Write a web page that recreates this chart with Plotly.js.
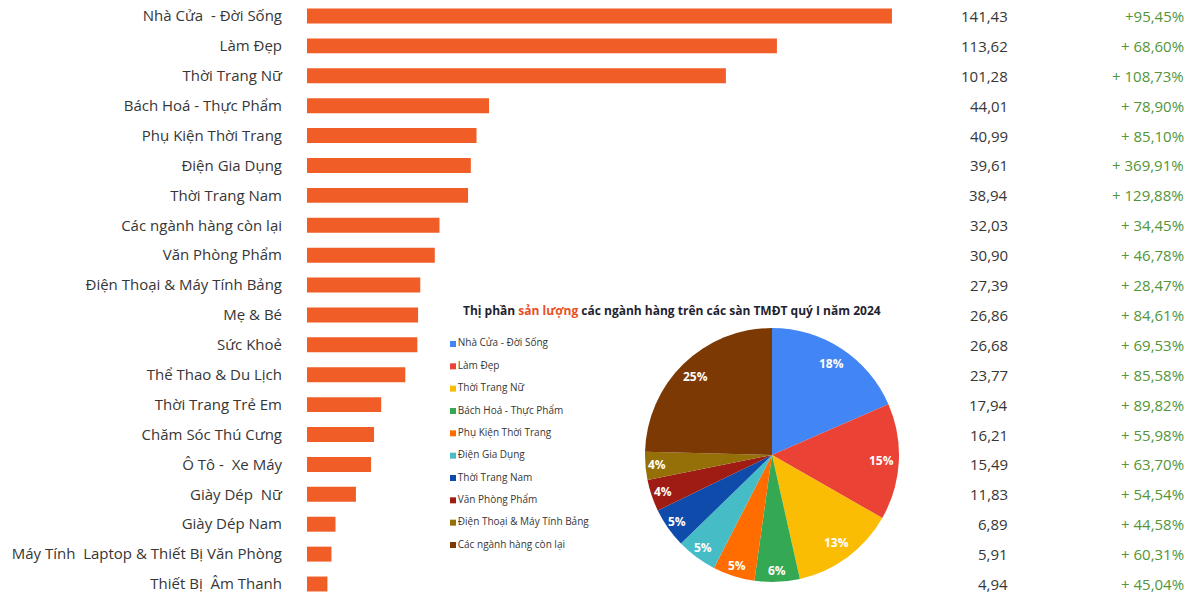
<!DOCTYPE html>
<html>
<head>
<meta charset="utf-8">
<script src="https://cdn.plot.ly/plotly-3.0.1.min.js"></script>
<style>html,body{margin:0;padding:0;background:#fff;}#chart{width:1188px;height:594px;}</style>
</head>
<body>
<div id="chart"></div>
<script>
// ---- Data ----
const categories = [
  "Nhà Cửa  - Đời Sống", "Làm Đẹp", "Thời Trang Nữ", "Bách Hoá - Thực Phẩm",
  "Phụ Kiện Thời Trang", "Điện Gia Dụng", "Thời Trang Nam", "Các ngành hàng còn lại",
  "Văn Phòng Phẩm", "Điện Thoại & Máy Tính Bảng", "Mẹ & Bé", "Sức Khoẻ",
  "Thể Thao & Du Lịch", "Thời Trang Trẻ Em", "Chăm Sóc Thú Cưng", "Ô Tô -  Xe Máy",
  "Giày Dép  Nữ", "Giày Dép Nam", "Máy Tính  Laptop & Thiết Bị Văn Phòng", "Thiết Bị  Âm Thanh"
];
const volumes = [141.43, 113.62, 101.28, 44.01, 40.99, 39.61, 38.94, 32.03, 30.90, 27.39,
                 26.86, 26.68, 23.77, 17.94, 16.21, 15.49, 11.83, 6.89, 5.91, 4.94];
const growthLabels = ["+95,45%", "+ 68,60%", "+ 108,73%", "+ 78,90%", "+ 85,10%", "+ 369,91%",
  "+ 129,88%", "+ 34,45%", "+ 46,78%", "+ 28,47%", "+ 84,61%", "+ 69,53%", "+ 85,58%",
  "+ 89,82%", "+ 55,98%", "+ 63,70%", "+ 54,54%", "+ 44,58%", "+ 60,31%", "+ 45,04%"];

const pieLabels = ["Nhà Cửa - Đời Sống", "Làm Đẹp", "Thời Trang Nữ", "Bách Hoá - Thực Phẩm",
  "Phụ Kiện Thời Trang", "Điện Gia Dụng", "Thời Trang Nam", "Văn Phòng Phẩm",
  "Điện Thoại & Máy Tính Bảng", "Các ngành hàng còn lại"];
const pieValues = [141.43, 113.62, 101.28, 44.01, 40.99, 39.61, 38.94, 30.90, 27.39, 188.55];
const pieColors = ["#4285F4", "#EA4335", "#FBBC04", "#34A853", "#FF6D01", "#46BDC6",
  "#0E4BAA", "#9E1C14", "#957008", "#7C3904"];

// ---- Styles ----
const W = 1188, H = 594;
const textColor = "#363636";
const greenColor = "#53953A";
const barColor = "#F15D27";
const pieDomain = {x: [(772 - 127) / W, (772 + 127) / W], y: [(H - 455 - 127) / H, (H - 455 + 127) / H]};

const barTrace = {
  type: "bar", orientation: "h",
  x: volumes, y: categories,
  width: 0.5,
  marker: {color: barColor},
  hoverinfo: "skip",
  xaxis: "x", yaxis: "y"
};

const pieTrace = {
  type: "pie",
  labels: pieLabels, values: pieValues,
  sort: false, direction: "clockwise", rotation: 0,
  marker: {colors: pieColors, line: {width: 0}},
  textinfo: "none",
  domain: pieDomain,
  showlegend: false,
  hoverinfo: "skip"
};

const legendTrace = {
  type: "scatter", mode: "markers+text",
  x: pieLabels.map(() => 0),
  y: pieLabels.map((_, i) => i),
  text: pieLabels,
  textposition: "middle right",
  textfont: {family: "Open Sans", size: 10, color: textColor},
  marker: {symbol: "square", size: 6, color: pieColors},
  cliponaxis: false,
  hoverinfo: "skip",
  xaxis: "x2", yaxis: "y2"
};

const annotations = [];
volumes.forEach((v, i) => {
  annotations.push({
    xref: "paper", yref: "y", x: 1010 / W, y: i,
    xanchor: "right", yanchor: "middle",
    text: v.toFixed(2).replace(".", ","), showarrow: false,
    font: {family: "Open Sans", size: 15, color: textColor}
  });
  annotations.push({
    xref: "paper", yref: "y", x: 1186 / W, y: i,
    xanchor: "right", yanchor: "middle",
    text: growthLabels[i], showarrow: false,
    font: {family: "Open Sans", size: 15, color: greenColor}
  });
});

// percentage labels near the rim of each slice (angle from the slice values, on a unit-circle axis pair)
const pieTotal = pieValues.reduce((a, b) => a + b, 0);
let cum = 0;
pieValues.forEach(v => {
  const share = v / pieTotal;
  const ang = (cum + v / 2) / pieTotal * 2 * Math.PI;
  cum += v;
  const r = share > 0.08 ? 0.86 : 0.91;
  annotations.push({
    xref: "x3", yref: "y3", x: r * Math.sin(ang), y: r * Math.cos(ang),
    xanchor: "center", yanchor: "middle", showarrow: false,
    text: Math.round(share * 100) + "%",
    font: {family: "Open Sans", size: 12, color: "#ffffff", weight: 700}
  });
});

annotations.push({
  xref: "paper", yref: "paper", x: 672 / W, y: (H - 310) / H,
  xanchor: "center", yanchor: "middle", showarrow: false,
  text: "Thị phần <span style='color:#E8511F'>sản lượng</span> các ngành hàng trên các sàn TMĐT quý I năm 2024",
  font: {family: "Open Sans", size: 12, color: "#1f2330", weight: 700}
});

const layout = {
  width: W, height: H,
  margin: {l: 0, r: 0, t: 0, b: 0},
  paper_bgcolor: "#ffffff", plot_bgcolor: "rgba(0,0,0,0)",
  showlegend: false,
  xaxis: {domain: [307 / W, 1], range: [0, (W - 307) / 4.136], visible: false, fixedrange: true},
  yaxis: {
    type: "category", range: [19.334, -0.535], showgrid: false, zeroline: false, showline: false,
    ticks: "", ticklabelstandoff: 24,
    tickfont: {family: "Open Sans", size: 15, color: textColor}, fixedrange: true
  },
  xaxis2: {domain: [449 / W, 649 / W], range: [-0.02, 0.98], visible: false, anchor: "y2"},
  yaxis2: {domain: [32 / H, 262 / H], range: [9.761, -0.537], visible: false, anchor: "x2"},
  xaxis3: {domain: pieDomain.x, range: [-1, 1], visible: false, anchor: "y3"},
  yaxis3: {domain: pieDomain.y, range: [-1, 1], visible: false, anchor: "x3"},
  annotations: annotations
};

Plotly.newPlot("chart", [barTrace, pieTrace, legendTrace], layout, {staticPlot: true});
</script>
</body>
</html>
